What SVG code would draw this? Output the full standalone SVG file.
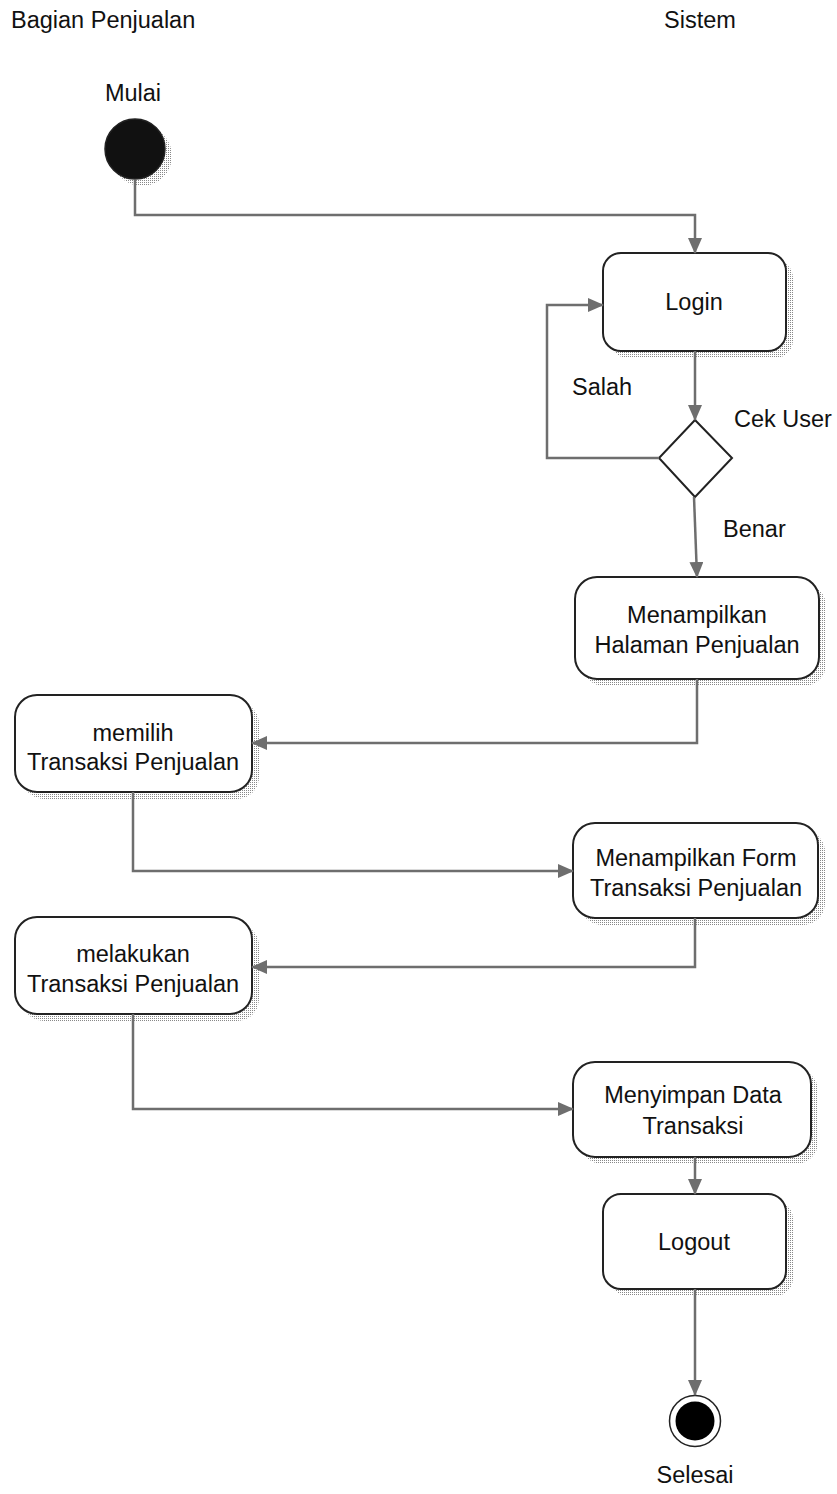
<svg xmlns="http://www.w3.org/2000/svg" width="837" height="1494" viewBox="0 0 837 1494">
<defs>
<pattern id="dots" width="2" height="2" patternUnits="userSpaceOnUse">
<rect x="0" y="0" width="1" height="1" fill="#888"/>
</pattern>
<marker id="arr" markerWidth="16" markerHeight="14" refX="15" refY="7" orient="auto" markerUnits="userSpaceOnUse">
<path d="M0,0 L16,7 L0,14 Z" fill="#6e6e6e"/>
</marker>
</defs>
<style>
text{font-family:"Liberation Sans",Arial,sans-serif;font-size:23.5px;fill:#111}
.c{text-anchor:middle}
.box{fill:#fff;stroke:#222;stroke-width:2}
.sh{fill:url(#dots);stroke:none}
.con{fill:none;stroke:#6e6e6e;stroke-width:2.5;marker-end:url(#arr)}
</style>
<rect width="837" height="1494" fill="#fff"/>
<text x="11" y="28">Bagian Penjualan</text>
<text x="664" y="28">Sistem</text>

<g id="start">
<circle cx="142" cy="156" r="30" class="sh"/>
<circle cx="135" cy="149" r="30" fill="#111" stroke="#222" stroke-width="1.5"/>
<text x="133" y="101" class="c">Mulai</text>
</g>

<g id="login">
<rect x="610" y="260" width="183" height="98" rx="18" class="sh"/>
<rect x="603" y="253" width="183" height="98" rx="18" class="box"/>
<text x="694" y="310" class="c">Login</text>
</g>

<g id="cekuser">
<path d="M695,420 L732,458 L695,497 L659,458 Z" fill="#fff" stroke="#222" stroke-width="2"/>
<text x="734" y="427">Cek User</text>
</g>

<g id="halaman">
<rect x="582" y="584" width="244" height="102" rx="22" class="sh"/>
<rect x="575" y="577" width="244" height="102" rx="22" class="box"/>
<text x="697" y="623" class="c">Menampilkan</text>
<text x="697" y="653" class="c">Halaman Penjualan</text>
</g>

<g id="memilih">
<rect x="22" y="702" width="237" height="97" rx="22" class="sh"/>
<rect x="15" y="695" width="237" height="97" rx="22" class="box"/>
<text x="133" y="741" class="c">memilih</text>
<text x="133" y="770" class="c">Transaksi Penjualan</text>
</g>

<g id="form">
<rect x="580" y="830" width="245" height="95" rx="22" class="sh"/>
<rect x="573" y="823" width="245" height="95" rx="22" class="box"/>
<text x="696" y="866" class="c">Menampilkan Form</text>
<text x="696" y="896" class="c">Transaksi Penjualan</text>
</g>

<g id="melakukan">
<rect x="22" y="924" width="237" height="97" rx="22" class="sh"/>
<rect x="15" y="917" width="237" height="97" rx="22" class="box"/>
<text x="133" y="962" class="c">melakukan</text>
<text x="133" y="992" class="c">Transaksi Penjualan</text>
</g>

<g id="menyimpan">
<rect x="580" y="1069" width="238" height="95" rx="22" class="sh"/>
<rect x="573" y="1062" width="238" height="95" rx="22" class="box"/>
<text x="693" y="1103" class="c">Menyimpan Data</text>
<text x="693" y="1134" class="c">Transaksi</text>
</g>

<g id="logout">
<rect x="610" y="1201" width="183" height="95" rx="18" class="sh"/>
<rect x="603" y="1194" width="183" height="95" rx="18" class="box"/>
<text x="694" y="1250" class="c">Logout</text>
</g>

<g id="end">
<circle cx="695" cy="1421" r="25.5" fill="#fff" stroke="#222" stroke-width="1.5"/>
<circle cx="695" cy="1421" r="19.5" fill="#000"/>
<text x="695" y="1483" class="c">Selesai</text>
</g>

<g id="connectors">
<path class="con" d="M135,180 L135,215 L695,215 L695,253"/>
<path class="con" d="M695,351 L695,420"/>
<path class="con" d="M659,458 L547,458 L547,305 L603,305"/>
<path class="con" d="M694,497 L697,577"/>
<path class="con" d="M697,679 L697,743 L252,743"/>
<path class="con" d="M133,792 L133,871 L573,871"/>
<path class="con" d="M695,918 L695,967 L252,967"/>
<path class="con" d="M133,1014 L133,1109 L573,1109"/>
<path class="con" d="M695,1157 L695,1194"/>
<path class="con" d="M695,1289 L695,1395"/>
</g>
<text x="572" y="395">Salah</text>
<text x="723" y="537">Benar</text>
</svg>
